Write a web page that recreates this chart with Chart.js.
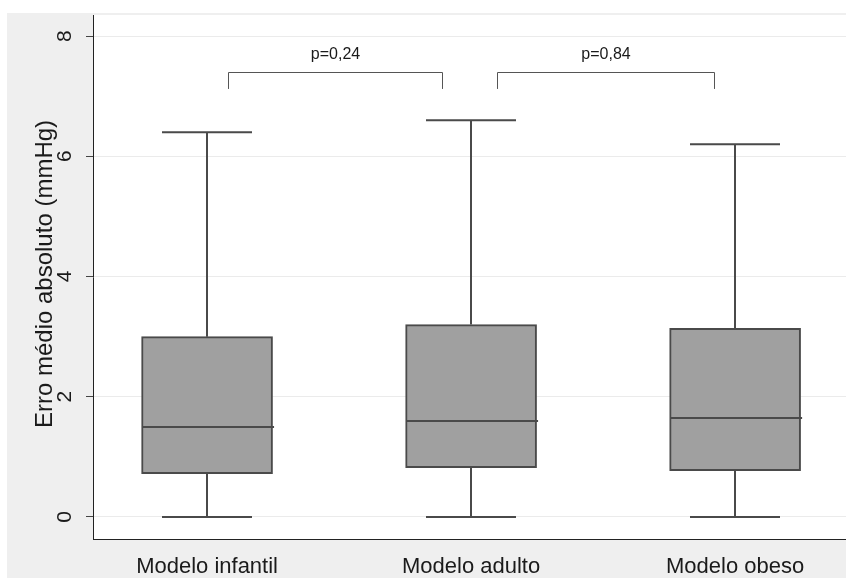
<!DOCTYPE html>
<html>
<head>
<meta charset="utf-8">
<script src="https://cdn.jsdelivr.net/npm/chart.js@4.4.1/dist/chart.umd.min.js"></script>
<style>
    html, body { margin: 0; padding: 0; background: #ffffff; }
    #wrap { width: 846px; height: 578px; position: relative; }
</style>
</head>
<body>
<div id="wrap"><canvas id="boxChart"></canvas></div>
<script>
// Data
const categories = ['Modelo infantil', 'Modelo adulto', 'Modelo obeso'];
const positions = [1, 2, 3];
const whiskerLow = [0, 0, 0];
const q1 = [0.72, 0.82, 0.77];
const median = [1.5, 1.6, 1.65];
const q3 = [3.0, 3.2, 3.14];
const whiskerHigh = [6.4, 6.6, 6.2];
const yTicks = [0, 2, 4, 6, 8];

// p-value brackets (data coordinates)
const pLabels = ['p=0,24', 'p=0,84'];
const pFrom = [1.08, 2.1];
const pTo = [1.89, 2.92];
const pTop = 7.4;
const pEnd = 7.12;
const pText = 7.69;

const FONT = "'Liberation Sans', Arial, sans-serif";
const INK = '#4a4a4a';

// background panels + hand drawn pieces
const boxPlugin = {
    id: 'boxPlugin',
    beforeDraw(chart) {
        const ctx = chart.ctx;
        const a = chart.chartArea;
        ctx.save();
        ctx.fillStyle = '#efefef';
        ctx.fillRect(7, 13, chart.width - 7, chart.height - 13);
        ctx.fillStyle = '#ffffff';
        ctx.fillRect(a.left, a.top, chart.width - a.left, a.bottom - a.top);
        ctx.restore();
    },
    beforeDatasetsDraw(chart) {
        const ctx = chart.ctx;
        const xs = chart.scales.x, ys = chart.scales.y;
        ctx.save();
        ctx.strokeStyle = INK;
        ctx.lineWidth = 2;
        positions.forEach((p, i) => {
            const x = Math.round(xs.getPixelForValue(p));
            const yLo = ys.getPixelForValue(whiskerLow[i]);
            const yHi = ys.getPixelForValue(whiskerHigh[i]);
            const yQ1 = ys.getPixelForValue(q1[i]);
            const yQ3 = ys.getPixelForValue(q3[i]);
            ctx.beginPath();
            ctx.moveTo(x, yQ3); ctx.lineTo(x, yHi);
            ctx.moveTo(x - 45, yHi); ctx.lineTo(x + 45, yHi);
            ctx.moveTo(x, yQ1); ctx.lineTo(x, yLo);
            ctx.moveTo(x - 45, yLo); ctx.lineTo(x + 45, yLo);
            ctx.stroke();
        });
        ctx.restore();
    },
    afterDatasetsDraw(chart) {
        const ctx = chart.ctx;
        const xs = chart.scales.x, ys = chart.scales.y;
        ctx.save();
        ctx.strokeStyle = INK;
        ctx.lineWidth = 2;
        positions.forEach((p, i) => {
            const x = xs.getPixelForValue(p);
            const y = Math.round(ys.getPixelForValue(median[i]));
            ctx.beginPath();
            ctx.moveTo(x - 65, y); ctx.lineTo(x + 67, y);
            ctx.stroke();
        });

        // brackets
        ctx.strokeStyle = '#555555';
        ctx.lineWidth = 1;
        ctx.fillStyle = '#1a1a1a';
        ctx.font = '16px ' + FONT;
        ctx.textAlign = 'center';
        ctx.textBaseline = 'middle';
        pLabels.forEach((lab, i) => {
            const x0 = Math.round(xs.getPixelForValue(pFrom[i])) + 0.5;
            const x1 = Math.round(xs.getPixelForValue(pTo[i])) + 0.5;
            const yt = Math.round(ys.getPixelForValue(pTop)) + 0.5;
            const ye = ys.getPixelForValue(pEnd);
            ctx.beginPath();
            ctx.moveTo(x0, ye); ctx.lineTo(x0, yt); ctx.lineTo(x1, yt); ctx.lineTo(x1, ye);
            ctx.stroke();
            ctx.fillText(lab, (x0 + x1) / 2, ys.getPixelForValue(pText));
        });

        // rotated y tick labels and title
        ctx.fillStyle = '#1a1a1a';
        ctx.font = '21px ' + FONT;
        yTicks.forEach(v => {
            ctx.save();
            ctx.translate(65, ys.getPixelForValue(v));
            ctx.rotate(-Math.PI / 2);
            ctx.fillText(String(v), 0, 0);
            ctx.restore();
        });
        ctx.save();
        ctx.font = '24px ' + FONT;
        ctx.translate(45, 274);
        ctx.rotate(-Math.PI / 2);
        ctx.fillText('Erro médio absoluto (mmHg)', 0, 0);
        ctx.restore();
        ctx.restore();
    }
};

const ctx = document.getElementById('boxChart').getContext('2d');
new Chart(ctx, {
    type: 'bar',
    data: {
        datasets: [{
            data: positions.map((p, i) => ({ x: p, y: [q1[i], q3[i]] })),
            backgroundColor: '#a0a0a0',
            borderColor: INK,
            borderWidth: 2,
            borderSkipped: false,
            barThickness: 131,
            grouped: false
        }]
    },
    options: {
        responsive: true,
        maintainAspectRatio: false,
        animation: false,
        layout: { padding: { top: 15, left: 0, right: 0, bottom: 0 } },
        plugins: {
            legend: { display: false },
            tooltip: { enabled: false }
        },
        scales: {
            x: {
                type: 'linear',
                offset: false,
                min: 0.568,
                max: 3.42,
                afterBuildTicks: s => { s.ticks = positions.map(v => ({ value: v })); },
                afterFit: s => { s.height = 39; s.paddingLeft = 0; s.paddingRight = 0; },
                grid: { display: false, drawTicks: false },
                border: { display: true, color: '#222222', width: 1 },
                ticks: {
                    padding: 15,
                    color: '#1a1a1a',
                    font: { family: FONT, size: 22 },
                    callback: v => categories[v - 1]
                }
            },
            y: {
                min: -0.366,
                max: 8.35,
                afterBuildTicks: s => { s.ticks = yTicks.map(v => ({ value: v })); },
                afterFit: s => { s.width = 93; },
                grid: {
                    color: '#ebebeb',
                    lineWidth: 1,
                    drawTicks: true,
                    tickLength: 7,
                    tickColor: '#444444'
                },
                border: { display: true, color: '#222222', width: 1 },
                ticks: { display: false }
            }
        }
    },
    plugins: [boxPlugin]
});
</script>
</body>
</html>
